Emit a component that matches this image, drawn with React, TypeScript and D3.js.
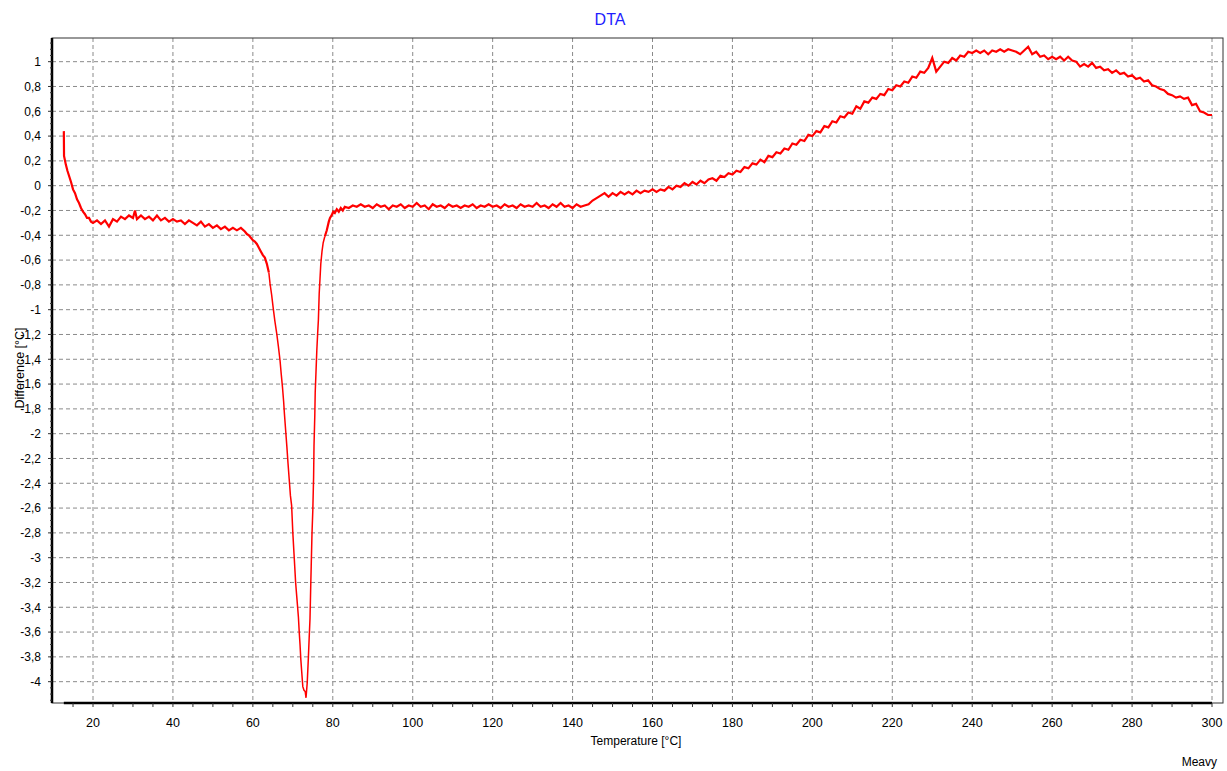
import React from "react";
import * as d3 from "d3";

// ---- data ----
const chartTitle = "DTA";
const xAxisTitle = "Temperature [°C]";
const yAxisTitle = "Difference [°C]";
const footerText = "Meavy";

const xTickValues = [20, 40, 60, 80, 100, 120, 140, 160, 180, 200, 220, 240, 260, 280, 300];
const yTickValues = [1, 0.8, 0.6, 0.4, 0.2, 0, -0.2, -0.4, -0.6, -0.8, -1, -1.2, -1.4, -1.6, -1.8, -2, -2.2, -2.4, -2.6, -2.8, -3, -3.2, -3.4, -3.6, -3.8, -4];

// [temperature °C, difference °C]
const dtaSeries: [number, number][] = [
  [12.7, 0.44], [12.75, 0.24], [13.2, 0.17], [13.6, 0.12], [14.0, 0.08], [14.5, 0.03], [15.0, -0.03], [15.5, -0.06],
  [16.0, -0.11], [16.5, -0.14], [17.0, -0.18], [17.5, -0.21], [18.0, -0.23], [18.5, -0.26], [19.0, -0.26], [19.5, -0.29],
  [20, -0.30], [21, -0.28], [22, -0.31], [23, -0.28], [24, -0.33], [25, -0.27], [26, -0.29], [27, -0.25], [28, -0.27],
  [29, -0.24], [30, -0.26], [30.5, -0.20], [31, -0.27], [32, -0.24], [33, -0.27], [34, -0.25], [35, -0.28], [36, -0.24],
  [37, -0.28], [38, -0.26], [39, -0.29], [40, -0.27], [41, -0.29], [42, -0.28], [43, -0.31], [44, -0.28], [45, -0.30],
  [46, -0.32], [47, -0.29], [48, -0.33], [49, -0.31], [50, -0.34], [51, -0.32], [52, -0.35], [53, -0.33], [54, -0.36],
  [55, -0.34], [56, -0.36], [57, -0.34], [58, -0.37], [58.5, -0.39], [59, -0.40], [59.5, -0.42], [60, -0.44],
  [60.5, -0.45], [61, -0.47], [61.5, -0.50], [62, -0.53], [62.5, -0.56], [63, -0.58], [63.5, -0.63], [64, -0.70],
  [64.3, -0.79], [64.7, -0.88], [65.1, -0.99], [65.5, -1.09], [66.0, -1.20], [66.4, -1.30], [66.8, -1.41], [67.1, -1.52],
  [67.4, -1.62], [67.7, -1.74], [67.9, -1.84], [68.2, -1.97], [68.5, -2.10], [68.8, -2.24], [69.1, -2.37], [69.4, -2.50],
  [69.7, -2.58], [70.0, -2.80], [70.3, -2.97], [70.7, -3.20], [71.0, -3.32], [71.4, -3.48], [71.6, -3.60], [71.8, -3.70],
  [72.0, -3.82], [72.2, -3.91], [72.5, -4.04], [72.8, -4.07], [73.1, -4.08], [73.3, -4.13], [73.6, -4.01], [73.9, -3.80],
  [74.1, -3.64], [74.3, -3.49], [74.5, -3.20], [74.6, -3.07], [74.8, -2.80], [75.0, -2.62], [75.2, -2.35], [75.3, -2.10],
  [75.5, -1.85], [75.6, -1.67], [75.8, -1.50], [76.0, -1.33], [76.2, -1.20], [76.4, -1.08], [76.6, -0.87], [76.8, -0.75],
  [77.0, -0.63], [77.3, -0.53], [77.6, -0.46], [78.0, -0.41], [78.5, -0.36], [79.0, -0.29], [79.3, -0.26], [79.7, -0.24],
  [80.1, -0.21], [80.5, -0.22], [81, -0.19], [81.5, -0.21], [82, -0.18], [82.5, -0.20], [83, -0.17],
  [84, -0.18], [85, -0.16], [86, -0.17], [87, -0.15], [88, -0.17], [89, -0.16], [90, -0.18], [91, -0.15], [92, -0.17],
  [93, -0.16], [94, -0.19], [95, -0.16], [96, -0.17], [97, -0.15], [98, -0.18], [99, -0.16], [100, -0.17], [101, -0.14],
  [102, -0.17], [103, -0.16], [104, -0.19], [105, -0.15], [106, -0.17], [107, -0.16], [108, -0.18], [109, -0.15],
  [110, -0.17], [111, -0.16], [112, -0.18], [113, -0.16], [114, -0.17], [115, -0.15], [116, -0.18], [117, -0.16],
  [118, -0.17], [119, -0.15], [120, -0.17], [121, -0.16], [122, -0.18], [123, -0.15], [124, -0.17], [125, -0.16],
  [126, -0.18], [127, -0.15], [128, -0.17], [129, -0.16], [130, -0.17], [131, -0.14], [132, -0.17], [133, -0.16],
  [134, -0.18], [135, -0.15], [136, -0.17], [137, -0.14], [138, -0.17], [139, -0.16], [140, -0.18], [141, -0.15],
  [142, -0.17], [143, -0.16], [144, -0.15], [145, -0.12], [146, -0.10], [147, -0.08], [148, -0.06], [149, -0.09],
  [150, -0.06], [151, -0.08], [152, -0.05], [153, -0.07], [154, -0.05], [155, -0.07], [156, -0.04], [157, -0.06],
  [158, -0.04], [159, -0.05], [160, -0.03], [161, -0.05], [162, -0.03], [163, -0.04], [164, -0.01], [165, -0.03],
  [166, 0.00], [167, -0.01], [168, 0.02], [169, 0.00], [170, 0.03], [171, 0.01], [172, 0.04], [173, 0.02], [174, 0.05],
  [175, 0.06], [176, 0.04], [177, 0.08], [178, 0.07], [179, 0.10], [180, 0.09], [181, 0.12], [182, 0.11], [183, 0.15],
  [184, 0.14], [185, 0.18], [186, 0.17], [187, 0.21], [188, 0.19], [189, 0.24], [190, 0.23], [191, 0.27], [192, 0.26],
  [193, 0.30], [194, 0.29], [195, 0.34], [196, 0.33], [197, 0.37], [198, 0.36], [199, 0.41], [200, 0.40], [201, 0.44],
  [202, 0.43], [203, 0.48], [204, 0.47], [205, 0.52], [206, 0.51], [207, 0.56], [208, 0.55], [209, 0.59], [210, 0.58],
  [211, 0.64], [212, 0.62], [213, 0.68], [214, 0.67], [215, 0.71], [216, 0.70], [217, 0.74], [218, 0.73], [219, 0.78],
  [220, 0.77], [221, 0.81], [222, 0.80], [223, 0.84], [224, 0.83], [225, 0.88], [226, 0.87], [227, 0.92], [228, 0.91],
  [229, 0.95], [230, 1.03], [231, 0.92], [232, 0.96], [233, 1.00], [234, 0.99], [235, 1.03], [236, 1.01], [237, 1.05],
  [238, 1.04], [239, 1.08], [240, 1.07], [241, 1.09], [242, 1.07], [243, 1.09], [244, 1.06], [245, 1.09], [246, 1.08],
  [247, 1.10], [248, 1.08], [249, 1.10], [250, 1.09], [251, 1.08], [252, 1.06], [253, 1.09], [254, 1.12], [255, 1.06],
  [256, 1.08], [257, 1.04], [258, 1.05], [259, 1.02], [260, 1.04], [261, 1.02], [262, 1.04], [263, 1.01], [264, 1.04],
  [265, 1.01], [266, 1.00], [267, 0.96], [268, 0.98], [269, 0.96], [270, 0.99], [271, 0.95], [272, 0.96], [273, 0.93],
  [274, 0.94], [275, 0.91], [276, 0.93], [277, 0.90], [278, 0.91], [279, 0.88], [280, 0.89], [281, 0.86], [282, 0.87],
  [283, 0.84], [284, 0.85], [285, 0.81], [286, 0.80], [287, 0.78], [288, 0.77], [289, 0.74], [290, 0.73], [291, 0.71],
  [292, 0.72], [293, 0.70], [294, 0.71], [295, 0.65], [296, 0.66], [297, 0.60], [298, 0.59], [299, 0.57], [300, 0.57],
];

const xDomain: [number, number] = [9.74, 302.75];
const yDomain: [number, number] = [-4.172, 1.191];

const W = 1227;
const H = 771;
const M = { left: 52, top: 38, right: 1223, bottom: 703 };
const FONT = "'Liberation Sans', Arial, sans-serif";

const fmt = (v: number) => String(Math.round(v * 10) / 10).replace(".", ",");

export default function App() {
  const x = d3.scaleLinear().domain(xDomain).range([M.left, M.right]);
  const y = d3.scaleLinear().domain(yDomain).range([M.bottom, M.top]);

  const line = d3
    .line<[number, number]>()
    .x((d) => x(d[0]))
    .y((d) => y(d[1]));

  const tMin = d3.min(dtaSeries, (d) => d[0]) as number;
  const tMax = d3.max(dtaSeries, (d) => d[0]) as number;
  const xMinor = d3.range(15, 300.01, 5).filter((t) => t >= tMin && t <= tMax);
  const yMinor = d3.range(-4.15, 1.1501, 0.05);

  // noisy plateaus drawn slightly heavier than the steep peak
  const before = dtaSeries.filter((d) => d[0] <= 64);
  const peak = dtaSeries.filter((d) => d[0] >= 64 && d[0] <= 78);
  const after = dtaSeries.filter((d) => d[0] >= 78);

  const grid = "#8a8a8a";

  return (
    <div style={{ position: "absolute", left: 0, top: 0 }}>
      <svg width={W} height={H} style={{ display: "block", background: "#fff" }}>
        <rect x={0} y={0} width={W} height={H} fill="#fff" />
        {/* title */}
        <text x={610} y={25} textAnchor="middle" fontFamily={FONT} fontSize={16} fill="#1e1eff">
          {chartTitle}
        </text>

        {/* grid */}
        {xTickValues.map((t) => (
          <line key={"gx" + t} x1={x(t)} x2={x(t)} y1={M.top} y2={M.bottom} stroke={grid} strokeWidth={1} strokeDasharray="4,3" />
        ))}
        {yTickValues.map((v) => (
          <line key={"gy" + v} x1={M.left} x2={M.right} y1={y(v)} y2={y(v)} stroke={grid} strokeWidth={1} strokeDasharray="4,3" />
        ))}

        {/* frame */}
        <rect x={M.left} y={M.top} width={M.right - M.left} height={M.bottom - M.top} fill="none" stroke="#333" strokeWidth={1} />

        {/* data */}
        <path d={line(before) || ""} fill="none" stroke="#ff0000" strokeWidth={2.2} strokeLinejoin="miter" />
        <path d={line(peak) || ""} fill="none" stroke="#ff0000" strokeWidth={1.5} strokeLinejoin="miter" />
        <path d={line(after) || ""} fill="none" stroke="#ff0000" strokeWidth={2.2} strokeLinejoin="miter" />

        {/* axes */}
        <line x1={M.left} x2={M.left} y1={M.top} y2={M.bottom} stroke="#000" strokeWidth={2.5} />
        <line x1={x(tMin)} x2={x(tMax)} y1={M.bottom} y2={M.bottom} stroke="#000" strokeWidth={2.5} />

        {/* x ticks */}
        {xMinor.map((t) => (
          <line key={"xt" + t} x1={x(t)} x2={x(t)} y1={M.bottom} y2={M.bottom + 4} stroke="#333" strokeWidth={1} />
        ))}
        {xTickValues.map((t) => (
          <text key={"xl" + t} x={x(t)} y={727} textAnchor="middle" fontFamily={FONT} fontSize={12.5} fill="#000">
            {t}
          </text>
        ))}

        {/* y ticks */}
        {yMinor.map((v, i) => (
          <line key={"ym" + i} x1={M.left - 2} x2={M.left} y1={y(v)} y2={y(v)} stroke="#333" strokeWidth={1} />
        ))}
        {yTickValues.map((v) => (
          <line key={"yt" + v} x1={M.left - 4} x2={M.left} y1={y(v)} y2={y(v)} stroke="#333" strokeWidth={1} />
        ))}
        {yTickValues.map((v) => (
          <text key={"yl" + v} x={41} y={y(v) + 4.3} textAnchor="end" fontFamily={FONT} fontSize={12} fill="#000">
            {fmt(v)}
          </text>
        ))}

        {/* axis titles */}
        <text x={636} y={745} textAnchor="middle" fontFamily={FONT} fontSize={12} fill="#000">
          {xAxisTitle}
        </text>
        <text transform="translate(24,368) rotate(-90)" textAnchor="middle" fontFamily={FONT} fontSize={12.5} fill="#000">
          {yAxisTitle}
        </text>
        <text x={1217} y={766} textAnchor="end" fontFamily={FONT} fontSize={12} fill="#000">
          {footerText}
        </text>
      </svg>
    </div>
  );
}
